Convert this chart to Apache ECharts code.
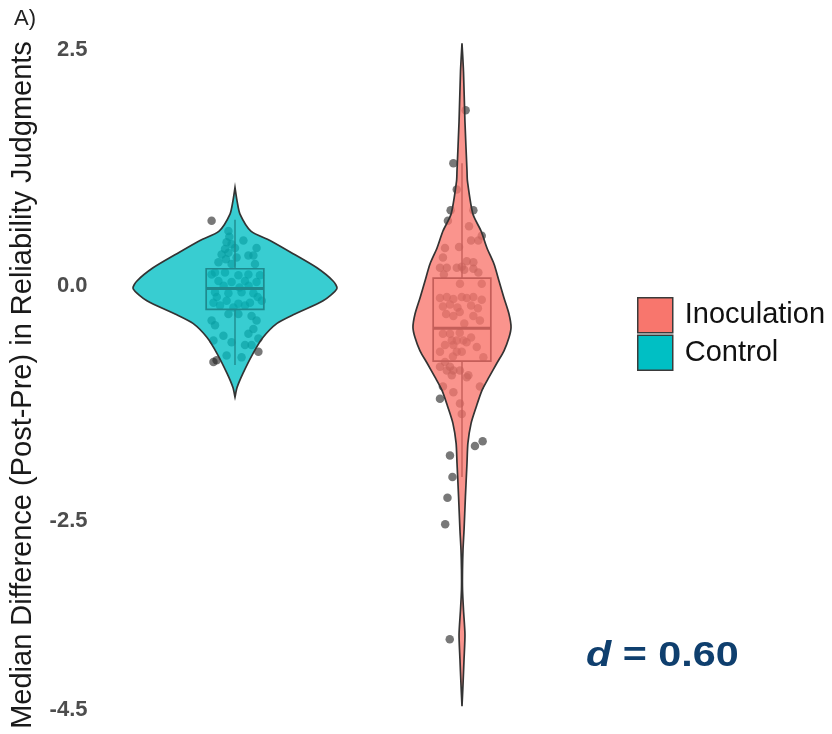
<!DOCTYPE html>
<html><head><meta charset="utf-8">
<script src="https://cdn.jsdelivr.net/npm/echarts@6/dist/echarts.min.js"></script>
<style>html,body{margin:0;padding:0;background:#fff}#c{width:832px;height:734px}</style>
</head><body><div id="c"></div>
<script>
// ---------- data ----------
const groups = ['Control', 'Inoculation'];
const groupX = [1, 2];
const yTicks = [2.5, 0, -2.5, -4.5];

// violin outlines: y level and half width (x units)
const controlViolinY = [1.04, 0.90, 0.76, 0.58, 0.48, 0.34, 0.19, 0.05, -0.03, -0.16, -0.30, -0.40, -0.55, -0.72, -0.93, -1.08, -1.18];
const controlViolinW = [0, 0.009, 0.022, 0.070, 0.154, 0.256, 0.361, 0.432, 0.449, 0.388, 0.264, 0.185, 0.123, 0.079, 0.035, 0.009, 0];
const inocViolinY = [2.57, 2.27, 1.74, 1.22, 1.11, 0.76, 0.58, 0.40, 0.23, 0.05, -0.13, -0.30, -0.44, -0.55, -0.69, -0.82, -0.97, -1.11, -1.29, -1.46, -1.67, -1.88, -2.24, -2.59, -2.80, -3.01, -3.22, -3.44, -3.70, -3.96, -4.23, -4.46];
const inocViolinW = [0, 0.0066, 0.013, 0.022, 0.024, 0.048, 0.084, 0.110, 0.141, 0.163, 0.185, 0.207, 0.216, 0.207, 0.185, 0.154, 0.119, 0.088, 0.062, 0.040, 0.026, 0.022, 0.015, 0.009, 0.0044, 0.0022, 0.0022, 0.0066, 0.013, 0.009, 0.0044, 0];

// box stats: [x, lowerWhisker, q1, median, q3, upperWhisker]
const controlBox = [1, -0.84, -0.25, -0.03, 0.18, 0.70];
const inocBox = [2, -2.03, -0.80, -0.45, 0.08, 1.30];

// jittered points [x, y]
const controlPoints = [
  [0.897,0.69],[0.971,0.58],[1.037,0.48],[0.963,0.46],[1.095,0.40],[0.956,0.39],[0.971,0.35],[0.941,0.33],
  [1.059,0.32],[1.081,0.32],[1.007,0.30],[0.927,0.25],[0.985,0.23],[1.088,0.23],[0.912,0.14],[0.975,0.52],
  [0.985,0.44],[0.960,0.28],[1.000,0.40],[0.897,0.12],[0.956,0.14],[1.015,0.11],[1.059,0.12],[1.110,0.11],
  [0.927,0.05],[0.985,0.04],[1.044,0.05],[1.095,0.04],[0.950,0.00],[1.020,-0.02],[1.060,0.00],[0.912,-0.07],
  [0.971,-0.08],[1.029,-0.07],[1.081,-0.08],[0.920,-0.12],[1.100,-0.12],[0.905,-0.18],[0.963,-0.16],[1.015,-0.19],
  [1.066,-0.18],[1.118,-0.16],[0.934,-0.21],[0.993,-0.23],[1.044,-0.21],[0.897,-0.37],[0.971,-0.30],[1.015,-0.30],
  [1.073,-0.32],[1.095,-0.37],[0.912,-0.42],[1.081,-0.46],[0.949,-0.53],[1.059,-0.51],[1.103,-0.56],[0.905,-0.58],
  [0.985,-0.60],[1.044,-0.63],[1.073,-0.63],[0.963,-0.74],[1.029,-0.76],[0.919,-0.79],[1.103,-0.70],[0.905,-0.81]
];
const inocPoints = [
  [2.016,1.86],[1.962,1.30],[1.977,1.02],[1.950,0.80],[2.050,0.80],[1.938,0.69],[2.031,0.63],[2.040,0.48],
  [2.087,0.53],[2.072,0.48],[1.925,0.40],[1.987,0.41],[1.916,0.30],[2.021,0.26],[2.050,0.25],[1.903,0.19],
  [1.933,0.19],[1.977,0.19],[1.999,0.20],[2.010,0.17],[2.050,0.18],[2.072,0.14],[1.920,0.12],[1.991,0.02],
  [2.087,0.02],[1.903,-0.13],[1.933,-0.12],[1.962,-0.14],[1.999,-0.12],[2.021,-0.13],[2.050,-0.12],[2.087,-0.15],
  [1.916,-0.22],[1.947,-0.20],[1.980,-0.23],[2.040,-0.21],[2.070,-0.24],[1.962,-0.32],[2.050,-0.32],[2.079,-0.37],
  [1.990,-0.28],[1.930,-0.30],[2.010,-0.40],[1.916,-0.51],[1.947,-0.51],[1.955,-0.58],[1.977,-0.58],[2.006,-0.58],
  [1.925,-0.63],[1.962,-0.63],[1.903,-0.70],[1.977,-0.70],[1.999,-0.70],[2.065,-0.65],[2.094,-0.76],[2.020,-0.60],
  [1.990,-0.50],[2.040,-0.55],[1.960,-0.75],[1.925,-0.81],[1.903,-0.86],[1.947,-0.86],[1.933,-0.90],[1.962,-0.90],
  [1.991,-0.90],[1.955,-0.95],[2.028,-0.95],[2.021,-0.97],[1.916,-1.07],[2.079,-1.07],[1.962,-1.13],[1.903,-1.20],
  [1.991,-1.25],[1.999,-1.36],[2.091,-1.65],[2.057,-1.70],[1.947,-1.80],[1.958,-2.03],[1.936,-2.25],[1.926,-2.53],
  [1.946,-3.75]
];
const effectLabel = '0.60';

// ---------- styles ----------
const FONT = 'Liberation Sans, Arial, sans-serif';
const colInoc = '#F8766D', colCtrl = '#00BFC4';
const BOX_HW = 0.127;

function violinRenderer(ys, ws, fill) {
  return function (params, api) {
    const cx = api.value(0);
    const pts = [];
    for (let i = 0; i < ys.length; i++) pts.push(api.coord([cx + ws[i], ys[i]]));
    for (let i = ys.length - 1; i >= 0; i--) pts.push(api.coord([cx - ws[i], ys[i]]));
    return {
      type: 'polygon',
      shape: { points: pts, smooth: 0.25 },
      style: { fill: fill, stroke: '#333333', lineWidth: 1.7 }
    };
  };
}

function boxRenderer(stroke, fill) {
  return function (params, api) {
    const x = api.value(0), lo = api.value(1), q1 = api.value(2), med = api.value(3), q3 = api.value(4), hi = api.value(5);
    const pHi = api.coord([x, hi]), pQ3 = api.coord([x, q3]), pQ1 = api.coord([x, q1]), pLo = api.coord([x, lo]);
    const tl = api.coord([x - BOX_HW, q3]), br = api.coord([x + BOX_HW, q1]);
    const mL = api.coord([x - BOX_HW, med]), mR = api.coord([x + BOX_HW, med]);
    return {
      type: 'group',
      children: [
        { type: 'line', shape: { x1: pHi[0], y1: pHi[1], x2: pQ3[0], y2: pQ3[1] }, style: { stroke: stroke, lineWidth: 1.4 } },
        { type: 'line', shape: { x1: pQ1[0], y1: pQ1[1], x2: pLo[0], y2: pLo[1] }, style: { stroke: stroke, lineWidth: 1.4 } },
        { type: 'rect', shape: { x: tl[0], y: tl[1], width: br[0] - tl[0], height: br[1] - tl[1] }, style: { fill: fill, stroke: stroke, lineWidth: 1.7 } },
        { type: 'line', shape: { x1: mL[0], y1: mL[1], x2: mR[0], y2: mR[1] }, style: { stroke: stroke, lineWidth: 3 } }
      ]
    };
  };
}

const chart = echarts.init(document.getElementById('c'), null, { renderer: 'canvas' });
chart.setOption({
  backgroundColor: '#ffffff',
  animation: false,
  textStyle: { fontFamily: FONT },
  grid: { left: 121.5, right: 256.5, top: 50, bottom: 24, containLabel: false },
  xAxis: { type: 'value', min: 0.5, max: 2.5, show: false },
  yAxis: {
    type: 'value', min: -4.5, max: 2.5,
    name: 'Median Difference (Post-Pre) in Reliability Judgments',
    nameLocation: 'middle', nameRotate: 90, nameGap: 84,
    nameTextStyle: { fontSize: 29, color: '#1a1a1a', fontFamily: FONT, padding: [0, 10, 0, 0] },
    axisLine: { show: false }, axisTick: { show: false }, splitLine: { show: false },
    axisLabel: {
      customValues: yTicks, margin: 34, fontSize: 22, fontWeight: 'bold', color: '#4d4d4d', fontFamily: FONT,
      formatter: v => v.toFixed(1)
    }
  },
  legend: {
    data: ['Inoculation', 'Control'],
    orient: 'vertical', left: 637, top: 297, padding: 0,
    itemWidth: 35, itemHeight: 35, itemGap: 1, icon: 'rect',
    itemStyle: { borderColor: '#3a3a3a', borderWidth: 1.5 },
    textStyle: { fontSize: 29, color: '#111', fontFamily: FONT, padding: [0, 0, 0, 7] }
  },
  graphic: [
    { type: 'text', left: 14, top: 8, style: { text: 'A)', fontSize: 22, fill: '#222', fontFamily: FONT } },
    { type: 'text', left: 586, top: 639, scaleX: 1.18, style: {
        text: '{i|d} = ' + effectLabel, fontSize: 35, fontWeight: 'bold', fill: '#0f3f6e', fontFamily: FONT,
        rich: { i: { fontStyle: 'italic', fontWeight: 'bold', fontSize: 35, fill: '#0f3f6e', fontFamily: FONT } }
      } }
  ],
  series: [
    { type: 'scatter', z: 1, silent: true, data: controlPoints, symbolSize: 8.5, itemStyle: { color: 'rgba(30,30,30,0.75)' } },
    { type: 'scatter', z: 1, silent: true, data: inocPoints, symbolSize: 8.5, itemStyle: { color: 'rgba(30,30,30,0.75)' } },
    { type: 'custom', name: 'Control', z: 2, clip: false, itemStyle: { color: colCtrl },
      data: [[groupX[0]]], renderItem: violinRenderer(controlViolinY, controlViolinW, 'rgba(0,191,196,0.78)') },
    { type: 'custom', name: 'Inoculation', z: 2, clip: false, itemStyle: { color: colInoc },
      data: [[groupX[1]]], renderItem: violinRenderer(inocViolinY, inocViolinW, 'rgba(248,118,109,0.78)') },
    { type: 'custom', z: 3, clip: false, data: [controlBox], renderItem: boxRenderer('#1f8a8e', 'rgba(0,191,196,0.2)') },
    { type: 'custom', z: 3, clip: false, data: [inocBox], renderItem: boxRenderer('#c45e59', 'rgba(248,118,109,0.2)') }
  ]
});
</script>
</body></html>
